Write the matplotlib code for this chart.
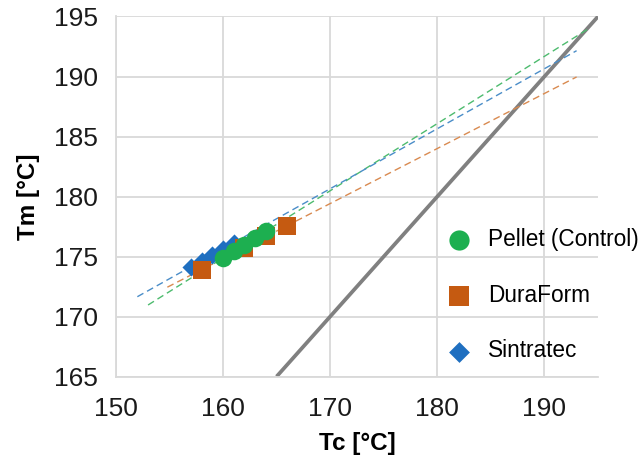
import numpy as np
import matplotlib
matplotlib.use("Agg")
import matplotlib.pyplot as plt

plt.rcParams['font.family'] = ['Liberation Sans', 'DejaVu Sans']

# Data (Tc, Tm)
pellet_tc = [160, 161, 162, 163, 164]
pellet_tm = [174.88, 175.44, 176.0, 176.56, 177.12]
duraform_tc = [158, 162, 164, 166]
duraform_tm = [173.9, 175.75, 176.7, 177.55]
sintratec_tc = [157, 158, 159, 160, 161]
sintratec_tm = [174.15, 174.65, 175.15, 175.65, 176.15]

# trendline extents (Tc)
pellet_trend = [153, 194.1]
duraform_trend = [154.8, 193]
sintratec_trend = [152, 193]

eq_line = [165, 195]

green = '#1DAF50'
orange = '#C55A11'
blue = '#1F6FC0'

fig = plt.figure(figsize=(6.44, 4.66), dpi=100)
ax = fig.add_axes([0.180, 0.192, 0.7486, 0.7726])

ax.plot(eq_line, eq_line, color='#808080', lw=2.7, zorder=2, solid_capstyle='butt')

for tc, tm, rng, col in [(pellet_tc, pellet_tm, pellet_trend, '#4DBB6E'),
                         (duraform_tc, duraform_tm, duraform_trend, '#D98A50'),
                         (sintratec_tc, sintratec_tm, sintratec_trend, '#4A8DC8')]:
    p = np.polyfit(tc, tm, 1)
    xs = np.array(rng)
    ax.plot(xs, np.polyval(p, xs), ls=(0, (5, 3)), color=col, lw=1.0, zorder=3)

ax.scatter(sintratec_tc, sintratec_tm, marker='D', s=85, color=blue, zorder=4,
           linewidths=0, label='Sintratec')
ax.scatter(duraform_tc, duraform_tm, marker='s', s=150, color=orange, zorder=5,
           linewidths=0, label='DuraForm')
ax.scatter(pellet_tc, pellet_tm, marker='o', s=160, color=green, zorder=6,
           linewidths=0, label='Pellet (Control)')

ax.set_xlim(150, 195)
ax.set_ylim(165, 195)
ax.set_xticks([150, 160, 170, 180, 190])
ax.set_yticks([165, 170, 175, 180, 185, 190, 195])
ax.grid(True, color='#D9D9D9', lw=1.3, zorder=0)
ax.set_axisbelow(True)
for s in ['top', 'right']:
    ax.spines[s].set_visible(False)
for s in ['left', 'bottom']:
    ax.spines[s].set_color('#D9D9D9')
    ax.spines[s].set_linewidth(1.3)
ax.tick_params(length=0, labelsize=19, colors='#1a1a1a')
ax.tick_params(axis='y', pad=13)
ax.tick_params(axis='x', pad=15)

ax.set_xlabel('Tc [°C]', fontsize=17.5, fontweight='bold', labelpad=8)
ax.set_ylabel('Tm [°C]', fontsize=17.5, fontweight='bold', labelpad=10)

handles, labels = ax.get_legend_handles_labels()
order = [2, 1, 0]
leg = ax.legend([handles[i] for i in order], [labels[i] for i in order],
                loc='center left', bbox_to_anchor=(0.622, 0.226), frameon=False,
                fontsize=16.3, labelspacing=1.45, handletextpad=0.3,
                scatterpoints=1, markerscale=1.15)

fig.savefig('out.png', dpi=100)
